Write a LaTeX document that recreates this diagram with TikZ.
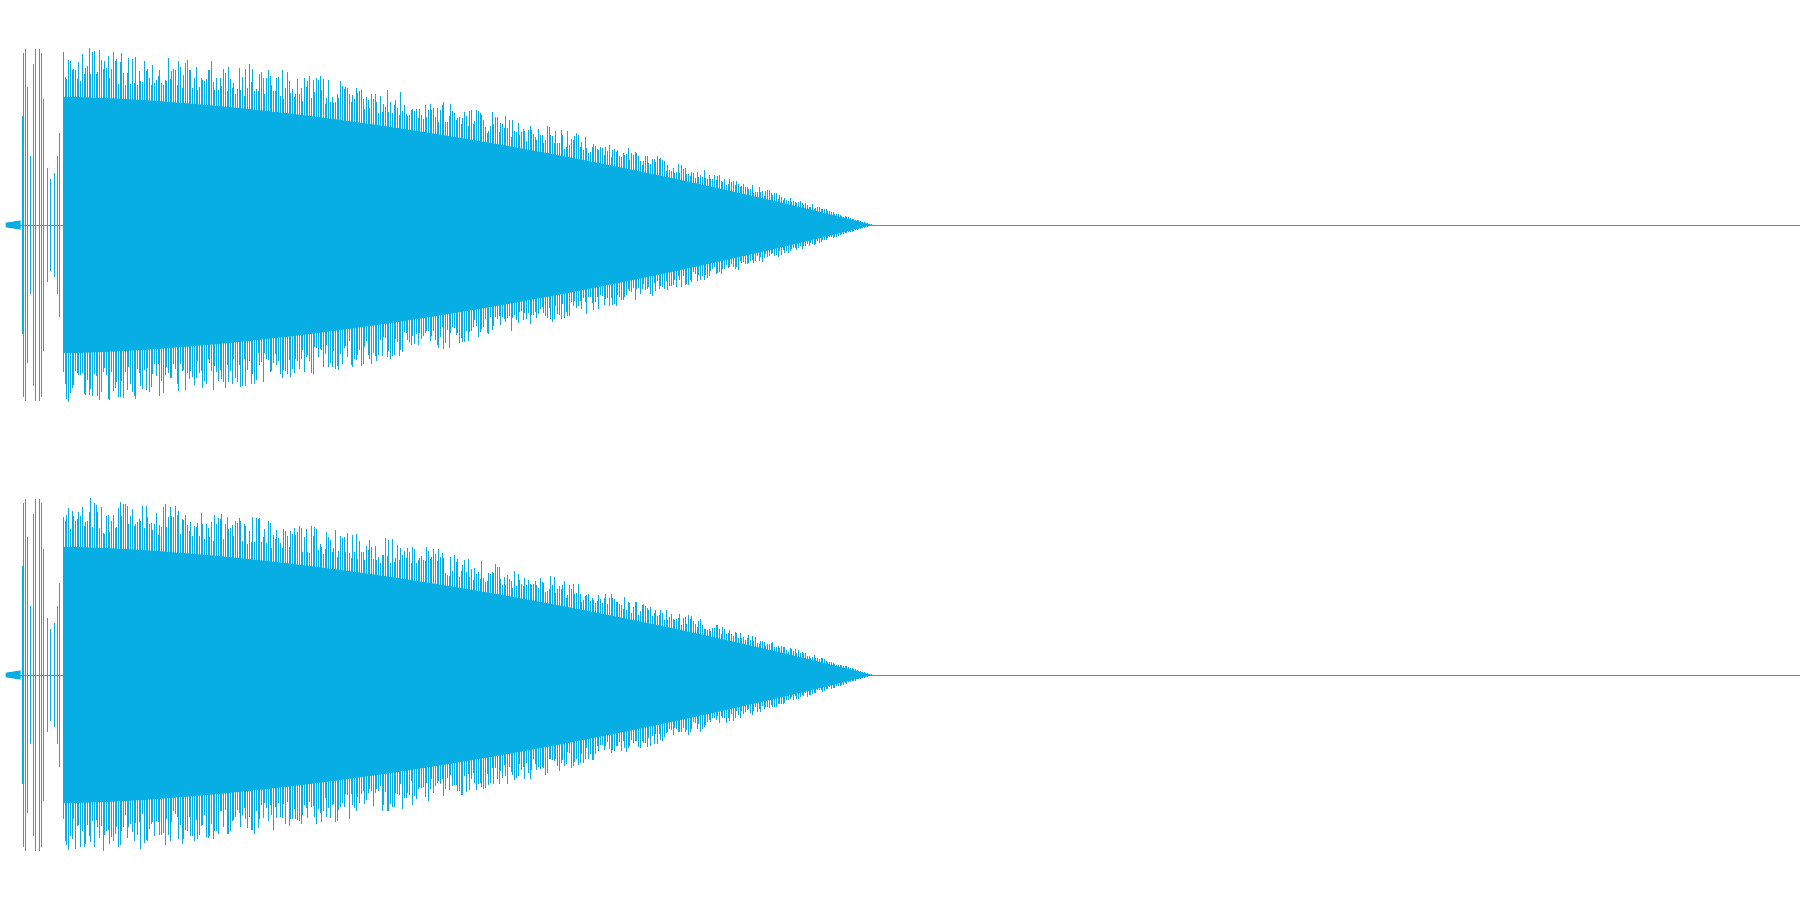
\documentclass[tikz,border=0pt]{standalone}
\definecolor{wave}{HTML}{06AEE3}
\begin{document}
\begin{tikzpicture}[x=1pt,y=-1pt,wl/.style={draw=wave,line width=0.5pt}]
\useasboundingbox (0,0) rectangle (1568,784);
\pgfmathsetseed{7}
\foreach \c in {196,588}{
  \draw[wl] (5,\c) -- (1568,\c);
  \fill[wave] (5,\c-2) -- (18,\c-4) -- (18,\c+4) -- (5,\c+2) -- cycle;
  \foreach \x/\a in {19/95,20/150,22/153,24/120,26/60,29/140,31/153,34/153,36/150,38/110,41/50,44/40,47/45,50/60,52/80}{
    \draw[wl] (\x,\c-\a) -- (\x,\c+\a);
  }
  \fill[wave] plot[domain=55:760,samples=60] (\x,{\c-0.72*155*(1-((\x-55)/705)^1.6)})
     -- plot[domain=760:55,samples=60] (\x,{\c+0.72*155*(1-((\x-55)/705)^1.6)}) -- cycle;
  \foreach \x in {55,56.5,...,760}{
    \pgfmathsetmacro\am{155*(1-((\x-55)/705)^1.6)}
    \pgfmathsetmacro\h{\am*(0.8+0.2*rnd)}
    \pgfmathsetmacro\g{\am*(0.8+0.2*rnd)}
    \draw[wl,line width=0.35pt] (\x,\c-\h) -- (\x,\c+\g);
  }
}
\end{tikzpicture}
\end{document}
